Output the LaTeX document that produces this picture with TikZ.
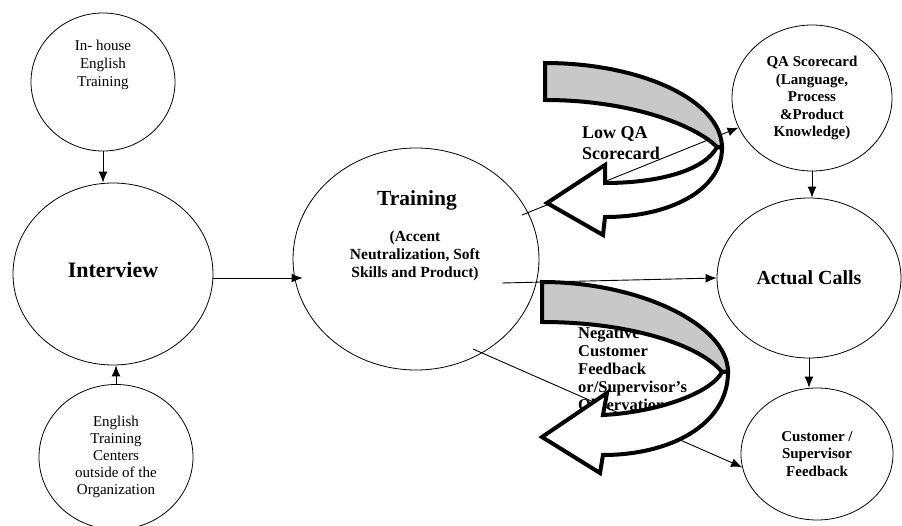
\documentclass[tikz,border=0pt]{standalone}
\usepackage{fontspec}
\setmainfont{Liberation Serif}
\usetikzlibrary{shapes.geometric, arrows.meta}
\definecolor{bandgray}{RGB}{200,200,200}

\begin{document}
\begin{tikzpicture}[x=1pt, y=-1pt,
  bubble/.style={ellipse, draw, line width=0.8pt, inner sep=0pt, align=center,
    font=\bfseries\fontsize{15}{17.5}\selectfont},
  link/.style={-{Latex[length=11pt, width=9pt]}, line width=0.9pt},
  band/.style={line width=4pt},
  lbl/.style={inner sep=0pt, align=left, anchor=west,
    font=\bfseries\fontsize{16.5}{18}\selectfont}]
  \useasboundingbox (0,0) rectangle (902,526);

  % circles
  \node[bubble, minimum width=144, minimum height=138] (house) at (103,82) {};
  \node[font=\fontsize{15}{18}\selectfont, align=center] (housetext) at (103,65) {In- house\\English\\Training};
  \node[bubble, minimum width=200, minimum height=182] (interview) at (113,274) {};
  \node[font=\bfseries\fontsize{22}{26}\selectfont] (interviewtext) at (113,270) {Interview};
  \node[bubble, minimum width=154, minimum height=145, font=\fontsize{15}{17}\selectfont] (centers) at (116,457) {English\\Training\\Centers\\outside of the\\Organization};
  \node[bubble, minimum width=246, minimum height=222] (training) at (416,259) {};
  \node[font=\bfseries\fontsize{21.5}{24}\selectfont] (traintitle) at (417,200) {Training};
  \node[font=\bfseries\fontsize{15.5}{18}\selectfont, align=center] (traintext) at (415,256) {(Accent\\Neutralization, Soft\\Skills and Product)};
  \node[bubble, minimum width=160, minimum height=146] (qa) at (812,98) {QA Scorecard\\(Language,\\Process\\\&Product\\Knowledge)};
  \node[bubble, minimum width=184, minimum height=160, font=\bfseries\fontsize{20}{24}\selectfont] (calls) at (809,278) {Actual Calls};
  \node[bubble, minimum width=152, minimum height=132] (cust) at (817,454) {Customer /\\Supervisor\\Feedback};

  \coordinate (tqa) at (522,215);
  \coordinate (tcall) at (502,283);
  \coordinate (tcust) at (473,349);

  % connectors
  \draw[link] (house.south) -- (house.south |- interview.north);
  \draw[link] (centers.north) -- (centers.north |- interview.south);
  \draw[link, shorten >=-10pt] ([yshift=-4pt]interview.east) -- ([yshift=-4pt]interview.east -| training.west);
  \draw[link] (tcall) -- (calls.west);
  \draw[link] (tqa) -- (qa);
  \draw[link] (tcust) -- (cust.190);
  \draw[link] (qa.south) -- (qa.south |- calls.north);
  \draw[link] (calls.south) -- (calls.south |- cust.north);

  % loop labels
  \node[lbl, font=\bfseries\fontsize{18}{21}\selectfont] (lowqa) at (582,143) {Low QA\\Scorecard};
  \node[lbl] (negfb) at (578,369) {Negative\\Customer\\Feedback\\or/Supervisor’s\\Observation};

  % upper u-turn arrow
  \draw[band, fill=bandgray] (545,63) .. controls (640,63) and (722,100) .. (722,148)
    -- (717,147) .. controls (695,125) and (630,100) .. (545,100) -- cycle;
  \draw[band, fill=white] (722,148) .. controls (722,190) and (670,217) .. (605,217)
    -- (603,235) -- (547,203) -- (605,165) -- (605,183)
    .. controls (660,183) and (705,170) .. (717,147) -- cycle;

  % lower u-turn arrow
  \draw[band, fill=bandgray] (542,282) .. controls (640,282) and (728,325) .. (728,372)
    -- (722,372) .. controls (700,345) and (630,322) .. (542,322) -- cycle;
  \draw[band, fill=white] (728,372) .. controls (728,425) and (670,455) .. (603,455)
    -- (600,473) -- (542,437) -- (607,393) -- (603,415)
    .. controls (660,412) and (712,392) .. (722,372) -- cycle;
\end{tikzpicture}
\end{document}
